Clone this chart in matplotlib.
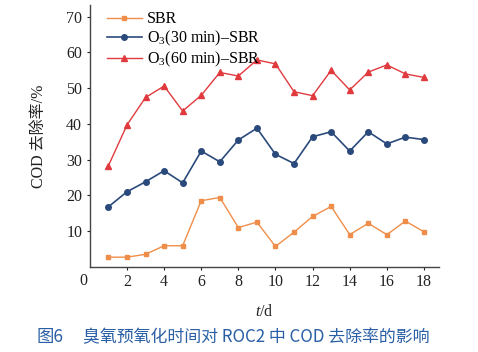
import matplotlib
matplotlib.use("Agg")
import matplotlib.pyplot as plt

plt.rcParams["font.family"] = ["Liberation Serif", "Noto Sans CJK SC"]
plt.rcParams["mathtext.fontset"] = "custom"
plt.rcParams["mathtext.rm"] = "Liberation Serif"
plt.rcParams["mathtext.it"] = "Liberation Serif:italic"

days = list(range(1, 19))
sbr = [2.7, 2.7, 3.5, 5.9, 5.9, 18.5, 19.4, 11.0, 12.5, 5.7, 9.7, 14.1, 16.9, 9.0, 12.2, 9.0, 12.8, 9.8]
o3_30 = [16.8, 21.0, 23.8, 26.9, 23.5, 32.4, 29.4, 35.5, 38.8, 31.5, 28.9, 36.4, 37.8, 32.4, 37.8, 34.4, 36.3, 35.6]
o3_60 = [28.3, 39.7, 47.4, 50.6, 43.6, 48.0, 54.4, 53.4, 57.9, 56.8, 49.0, 47.9, 55.0, 49.5, 54.5, 56.5, 54.0, 53.0]
labels = ["SBR", "O$_3$(30 min)–SBR", "O$_3$(60 min)–SBR"]
x_ticks = [2, 4, 6, 8, 10, 12, 14, 16, 18]
y_ticks = [10, 20, 30, 40, 50, 60, 70]

fig = plt.figure(figsize=(4.78, 3.52), dpi=100)
ax = fig.add_axes([0.188, 0.242, 0.730, 0.744])

ax.plot(days, sbr, color="#ef8e4a", marker="s", markersize=3.5, linewidth=1.0, label=labels[0])
ax.plot(days, o3_30, color="#2b4a7c", marker="o", markersize=4, linewidth=1.2, label=labels[1])
ax.plot(days, o3_60, color="#e03a3e", marker="^", markersize=4.5, linewidth=1.0, label=labels[2])

ax.set_xlim(0, 18.8)
ax.set_ylim(0, 73.3)
ax.set_xticks(x_ticks)
ax.set_yticks(y_ticks)
ax.tick_params(direction="out", length=2.5, width=0.8, labelsize=11.5, colors="#222222", pad=3)
ax.spines["top"].set_visible(False)
ax.spines["right"].set_visible(False)
for s in ["left", "bottom"]:
    ax.spines[s].set_color("#444444")
    ax.spines[s].set_linewidth(1.0)

# shared origin label
ax.text(-0.15, -1.8, "0", fontsize=11.5, ha="right", va="top", color="#222222")

ax.set_xlabel("$t$/d", fontsize=11.5, labelpad=10, color="#222222")
ax.set_ylabel("COD 去除率/%", fontsize=11.5, labelpad=14, color="#222222")

ax.legend(loc="upper left", bbox_to_anchor=(0.03, 1.0), frameon=False, fontsize=11.5,
          handlelength=2.2, handletextpad=0.3, labelspacing=0.1, borderaxespad=0)

fig.text(0.077, 0.043, "图6", family="Noto Sans CJK SC",
         fontsize=12.5, color="#2a5fa5", ha="left", va="center", fontweight="medium")
fig.text(0.174, 0.043, "臭氧预氧化时间对 ROC2 中 COD 去除率的影响", family="Noto Sans CJK SC",
         fontsize=12.2, color="#2a5fa5", ha="left", va="center", fontweight="medium")

fig.savefig("out.png", dpi=100)
